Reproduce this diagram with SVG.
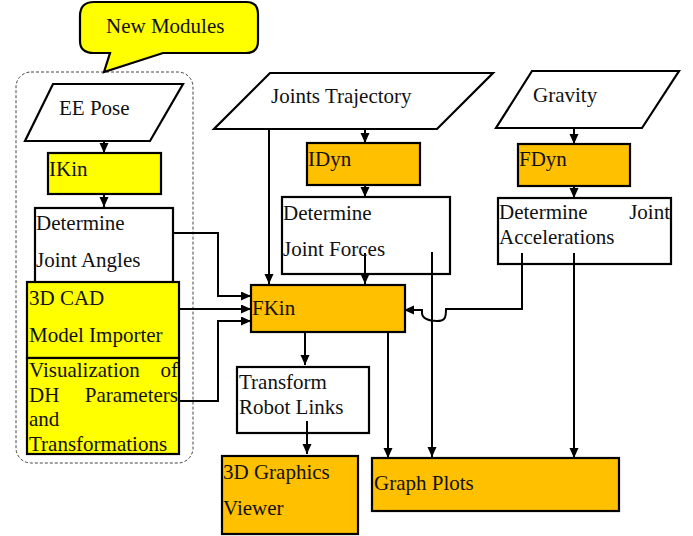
<svg xmlns="http://www.w3.org/2000/svg" width="693" height="536" viewBox="0 0 693 536">
<defs>
<marker id="ah" markerUnits="userSpaceOnUse" markerWidth="11" markerHeight="10" refX="10" refY="4.5" orient="auto">
<path d="M0,0 L10,4.5 L0,9 Z" fill="#000"/>
</marker>
<style>
text{font-family:"Liberation Serif","Times New Roman",serif;font-size:21px;fill:#111}
.b{stroke:#000;stroke-width:2.2}
.w{fill:#fff}
.y{fill:#ffff00}
.o{fill:#ffc000}
.c{fill:none;stroke:#000;stroke-width:2;marker-end:url(#ah)}
.p{fill:none;stroke:#000;stroke-width:2}
</style>
</defs>
<rect width="693" height="536" fill="#fff"/>
<g id="container">
<rect x="16" y="72" width="177" height="391" rx="15" fill="none" stroke="#444" stroke-width="1" stroke-dasharray="3,2"/>
</g>
<g id="callout">
<path class="b y" d="M94,2 H246 Q258,2 258,14 V41 Q258,53 246,53 H163 L104,72 L110,53 H94 Q80,53 80,41 V16 Q80,2 94,2 Z"/>
<text x="106" y="33">New Modules</text>
</g>
<g id="connectors">
<path class="c" d="M104,128 V153"/>
<path class="c" d="M104,183 V207"/>
<path class="c" d="M173,233 H218 V296 H251"/>
<path class="c" d="M179,309 H251"/>
<path class="c" d="M179,401 H218 V321 H251"/>
<path class="c" d="M365,117 V143"/>
<path class="c" d="M365,173 V197"/>
<path class="c" d="M269,120 V284"/>
<path class="c" d="M365,253 V284"/>
<path class="c" d="M432,252 V457"/>
<path class="c" d="M574,116 V144"/>
<path class="c" d="M574,174 V198"/>
<path class="c" d="M574,253 V458"/>
<path class="c" d="M522,253 V309 H446 C446,318 445,321 437,321 C428,321 422,318 422,313 V310 H404"/>
<path class="c" d="M305,332 V365"/>
<path class="c" d="M388,332 V458"/>
<path class="c" d="M307,421 V454"/>
</g>
<g id="ee-pose">
<path class="b w" d="M53,84 H183 L150,141 H25 Z"/>
<text x="59" y="115">EE Pose</text>
</g>
<g id="ikin">
<rect class="b y" x="48" y="153" width="113" height="41"/>
<text x="49" y="176">IKin</text>
</g>
<g id="determine-joint-angles">
<rect class="b w" x="35" y="208" width="138" height="80"/>
<text x="36" y="230">Determine</text>
<text x="36" y="267">Joint Angles</text>
</g>
<g id="cad-importer">
<rect class="b y" x="27" y="282" width="152" height="76"/>
<text x="29" y="305">3D CAD</text>
<text x="29" y="342">Model Importer</text>
</g>
<g id="dh-visualization">
<rect class="b y" x="27" y="358" width="152" height="96"/>
<text x="29" y="377">Visualization</text>
<text x="178" y="377" text-anchor="end">of</text>
<text x="29" y="402">DH</text>
<text x="178" y="402" text-anchor="end">Parameters</text>
<text x="29" y="426">and</text>
<text x="29" y="451">Transformations</text>
</g>
<g id="joints-trajectory">
<path class="b w" d="M270,73 H493 L437,129 H214 Z"/>
<text x="271" y="103">Joints Trajectory</text>
</g>
<g id="idyn">
<rect class="b o" x="307" y="143" width="113" height="42"/>
<text x="308" y="166">IDyn</text>
</g>
<g id="determine-joint-forces">
<rect class="b w" x="282" y="197" width="168" height="77" fill-opacity="0"/>
<text x="283" y="220">Determine</text>
<text x="283" y="256">Joint Forces</text>
</g>
<g id="gravity">
<path class="b w" d="M532,71 H679 L642,128 H496 Z"/>
<text x="533" y="102">Gravity</text>
</g>
<g id="fdyn">
<rect class="b o" x="518" y="144" width="112" height="42"/>
<text x="519" y="166">FDyn</text>
</g>
<g id="determine-joint-accelerations">
<rect class="b w" x="498" y="198" width="173" height="66" fill-opacity="0"/>
<text x="499" y="219">Determine</text>
<text x="670" y="219" text-anchor="end">Joint</text>
<text x="499" y="244">Accelerations</text>
</g>
<g id="fkin">
<rect class="b o" x="251" y="285" width="154" height="47"/>
<text x="252" y="315">FKin</text>
</g>
<g id="transform-robot-links">
<rect class="b w" x="237" y="367" width="132" height="66" fill-opacity="0"/>
<text x="239" y="389">Transform</text>
<text x="239" y="414">Robot Links</text>
</g>
<g id="graphics-viewer">
<rect class="b o" x="222" y="456" width="136" height="78"/>
<text x="223" y="479">3D Graphics</text>
<text x="223" y="515">Viewer</text>
</g>
<g id="graph-plots">
<rect class="b o" x="372" y="458" width="247" height="53"/>
<text x="374" y="490">Graph Plots</text>
</g>
</svg>
